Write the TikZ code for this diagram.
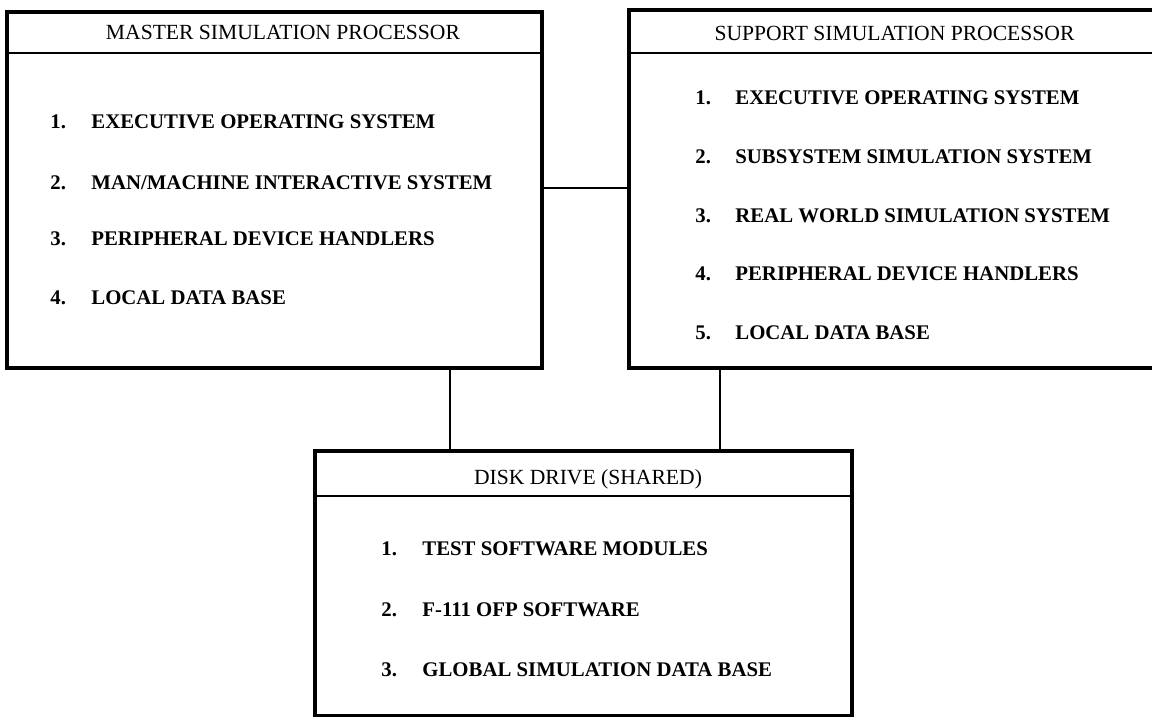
\documentclass[tikz,border=0pt]{standalone}
\usepackage{fontspec}
\setmainfont{Liberation Serif}
\begin{document}
\begin{tikzpicture}[x=0.5pt,y=-0.5pt,
  box/.style={draw, line width=1.7pt, rectangle, inner sep=0pt},
  sep/.style={line width=1.3pt},
  link/.style={line width=1.4pt},
  title/.style={font=\fontsize{10.8}{13}\selectfont, inner sep=0pt, text height=7.1pt, text depth=0pt},
  item/.style={font=\fontsize{10.4}{12.5}\bfseries\selectfont, anchor=west, inner sep=0pt, text height=6.9pt, text depth=0pt}]
\useasboundingbox (0,0) rectangle (1152,717);
\fill[white] (0,0) rectangle (1152,717);
% boxes
\node[box, minimum width=267.5pt, minimum height=178pt] (master) at (274.5,190) {};
\node[box, minimum width=265.5pt, minimum height=179pt] (support) at (894.5,189) {};
\node[box, minimum width=268.5pt, minimum height=132.5pt] (disk) at (583.5,583.5) {};
% header separators
\coordinate (mh) at (0,53);
\coordinate (sh) at (0,53);
\coordinate (dh) at (0,496);
\draw[sep] (master.west |- mh) -- (master.east |- mh);
\draw[sep] (support.west |- sh) -- (support.east |- sh);
\draw[sep] (disk.west |- dh) -- (disk.east |- dh);
% titles
\node[title] (mtitle) at (283,32) {MASTER SIMULATION PROCESSOR};
\node[title] (stitle) at (894.5,33) {SUPPORT SIMULATION PROCESSOR};
\node[title] (dtitle) at (588,477) {DISK DRIVE (SHARED)};
% master items
\node[item] (m1) at (50,122) {\makebox[20.5pt][l]{1.}EXECUTIVE OPERATING SYSTEM};
\node[item] (m2) at (50,183) {\makebox[20.5pt][l]{2.}MAN/MACHINE INTERACTIVE SYSTEM};
\node[item] (m3) at (50,239) {\makebox[20.5pt][l]{3.}PERIPHERAL DEVICE HANDLERS};
\node[item] (m4) at (50,298) {\makebox[20.5pt][l]{4.}LOCAL DATA BASE};
% support items
\node[item] (s1) at (695,98) {\makebox[20pt][l]{1.}EXECUTIVE OPERATING SYSTEM};
\node[item] (s2) at (695,157) {\makebox[20pt][l]{2.}SUBSYSTEM SIMULATION SYSTEM};
\node[item] (s3) at (695,216) {\makebox[20pt][l]{3.}REAL WORLD SIMULATION SYSTEM};
\node[item] (s4) at (695,274) {\makebox[20pt][l]{4.}PERIPHERAL DEVICE HANDLERS};
\node[item] (s5) at (695,333) {\makebox[20pt][l]{5.}LOCAL DATA BASE};
% disk items
\node[item] (d1) at (381,549) {\makebox[20.5pt][l]{1.}TEST SOFTWARE MODULES};
\node[item] (d2) at (381,610) {\makebox[20.5pt][l]{2.}F-111 OFP SOFTWARE};
\node[item] (d3) at (381,670) {\makebox[20.5pt][l]{3.}GLOBAL SIMULATION DATA BASE};
% connectors
\coordinate (hl) at (0,188);
\coordinate (vl) at (450,0);
\coordinate (vr) at (720,0);
\draw[link] (master.east |- hl) -- (support.west |- hl);
\draw[link] (master.south -| vl) -- (disk.north -| vl);
\draw[link] (support.south -| vr) -- (disk.north -| vr);
\end{tikzpicture}
\end{document}
